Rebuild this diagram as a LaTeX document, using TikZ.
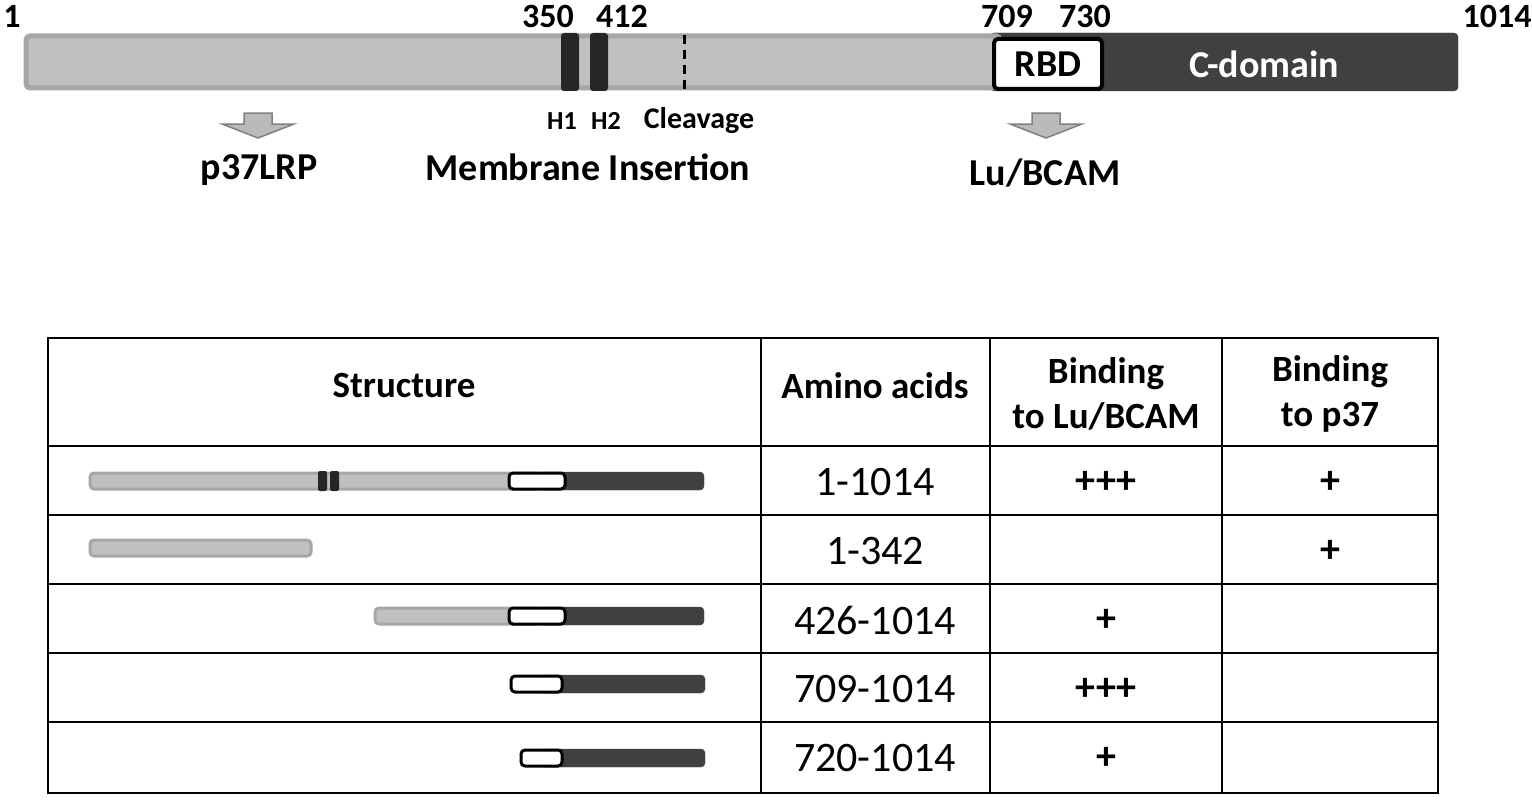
\documentclass[tikz,border=0pt]{standalone}
\usepackage{fontspec}
\setmainfont{Carlito}
\usetikzlibrary{positioning,calc}
\definecolor{lightbar}{HTML}{C0C0C0}
\definecolor{barline}{HTML}{A6A6A6}
\definecolor{darkbar}{HTML}{404040}
\definecolor{helix}{HTML}{262626}
\tikzset{
  num/.style={font=\bfseries\fontsize{34}{36}\selectfont},
  lab/.style={font=\bfseries\fontsize{38}{40}\selectfont},
  small/.style={font=\bfseries\fontsize{30}{32}\selectfont},
  head/.style={font=\bfseries\fontsize{37}{45}\selectfont,align=center},
  cell/.style={font=\fontsize{42}{44}\selectfont},
  sign/.style={font=\bfseries\fontsize{40}{42}\selectfont},
  light/.style={fill=lightbar,draw=barline,rounded corners=4pt},
  dark/.style={fill=darkbar,draw=darkbar,rounded corners=4pt},
  rbd/.style={fill=white,draw=black,line width=4pt,rounded corners=4pt},
  downarrow/.style={fill=lightbar!90!gray,draw=gray,line width=1.5pt}
}
\newcommand{\blockarrow}[1]{%
  \path[downarrow] ($(#1)+(-14,0)$) -- ++(28,0) -- ++(0,11) -- ++(22,0)
    -- ($(#1)+(0,25)$) -- ($(#1)+(-36,11)$) -- ++(22,0) -- cycle;}
\begin{document}
\begin{tikzpicture}[x=1pt,y=-1pt]
  \useasboundingbox (0,0) rectangle (1532,800);
  % full length protein
  \path[dark] (990,33) rectangle (1458,91);
  \path[light,line width=5pt] (26,36) -- (1000,36) -- (1000,88) -- (26,88) -- cycle;
  \path[fill=helix,rounded corners=3pt] (561,33) rectangle (579,91);
  \path[fill=helix,rounded corners=3pt] (590,33) rectangle (608,91);
  \draw[black,line width=3pt,dash pattern=on 9pt off 6pt] (684,35) -- (684,91);
  \path[rbd] (994,39) rectangle (1102,89);
  \node[lab] (rbd) at (1048,64) {RBD};
  \node[lab,text=white] (cdom) at (1264,64) {C-domain};
  % positions
  \node[num] (p1) at (12,16) {1};
  \node[num] (p350) at (548,16) {350};
  \node[num] (p412) at (622,16) {412};
  \node[num] (p709) at (1007,16) {709};
  \node[num] (p730) at (1085,16) {730};
  \node[num] (p1014) at (1497,16) {1014};
  % labels
  \node[small,font=\bfseries\fontsize{26}{28}\selectfont] (h1) at (562,121) {H1};
  \node[small,font=\bfseries\fontsize{26}{28}\selectfont] (h2) at (606,121) {H2};
  \node[small] (cleave) at (699,121) {Cleavage};
  \node[lab] (memb) at (588,167) {Membrane Insertion};
  \coordinate (a1) at (258,113);
  \coordinate (a2) at (1046,113);
  \blockarrow{a1}
  \blockarrow{a2}
  \node[lab] (p37) at (259,170) {p37LRP};
  \node[lab] (lu) at (1045,173) {Lu/BCAM};
  % table
  \draw[line width=2pt] (48,338) rectangle (1438,793);
  \foreach \x in {761,990,1222} \draw[line width=2pt] (\x,338) -- (\x,793);
  \foreach \y in {446,515,584,653,722} \draw[line width=2pt] (48,\y) -- (1438,\y);
  \node[head] (hs) at (404,386) {Structure};
  \node[head] (ha) at (875,386) {Amino acids};
  \node[head] (hl) at (1106,394) {Binding\\to Lu/BCAM};
  \node[head] (hp) at (1330,394) {Binding\\to p37};
  % fragments
  \path[dark] (540,472) rectangle (704,490);
  \path[light,line width=3pt] (90,473) -- (540,473) -- (540,489) -- (90,489) -- cycle;
  \path[fill=helix,rounded corners=2pt] (318,471) rectangle (327,491);
  \path[fill=helix,rounded corners=2pt] (330,471) rectangle (339,491);
  \path[rbd,line width=3pt] (509,473) rectangle (565,489);
  \path[light,line width=3pt] (90,540) -- (311,540) -- (311,556) -- (90,556) -- cycle;
  \path[dark] (540,607) rectangle (704,625);
  \path[light,line width=3pt] (375,608) -- (540,608) -- (540,624) -- (375,624) -- cycle;
  \path[rbd,line width=3pt] (509,608) rectangle (565,624);
  \path[dark] (540,675) rectangle (705,693);
  \path[rbd,line width=3pt] (511,676) rectangle (562,692);
  \path[dark] (540,749) rectangle (705,767);
  \path[rbd,line width=3pt] (521,750) rectangle (562,766);
  % values
  \node[cell] (r1) at (875,482) {1-1014};
  \node[cell] (r2) at (875,551) {1-342};
  \node[cell] (r3) at (875,620) {426-1014};
  \node[cell] (r4) at (875,689) {709-1014};
  \node[cell] (r5) at (875,758) {720-1014};
  \node[sign] (l1) at (1106,482) {+++};
  \node[sign] (l3) at (1106,620) {+};
  \node[sign] (l4) at (1106,689) {+++};
  \node[sign] (l5) at (1106,758) {+};
  \node[sign] (q1) at (1330,482) {+};
  \node[sign] (q2) at (1330,551) {+};
\end{tikzpicture}
\end{document}
